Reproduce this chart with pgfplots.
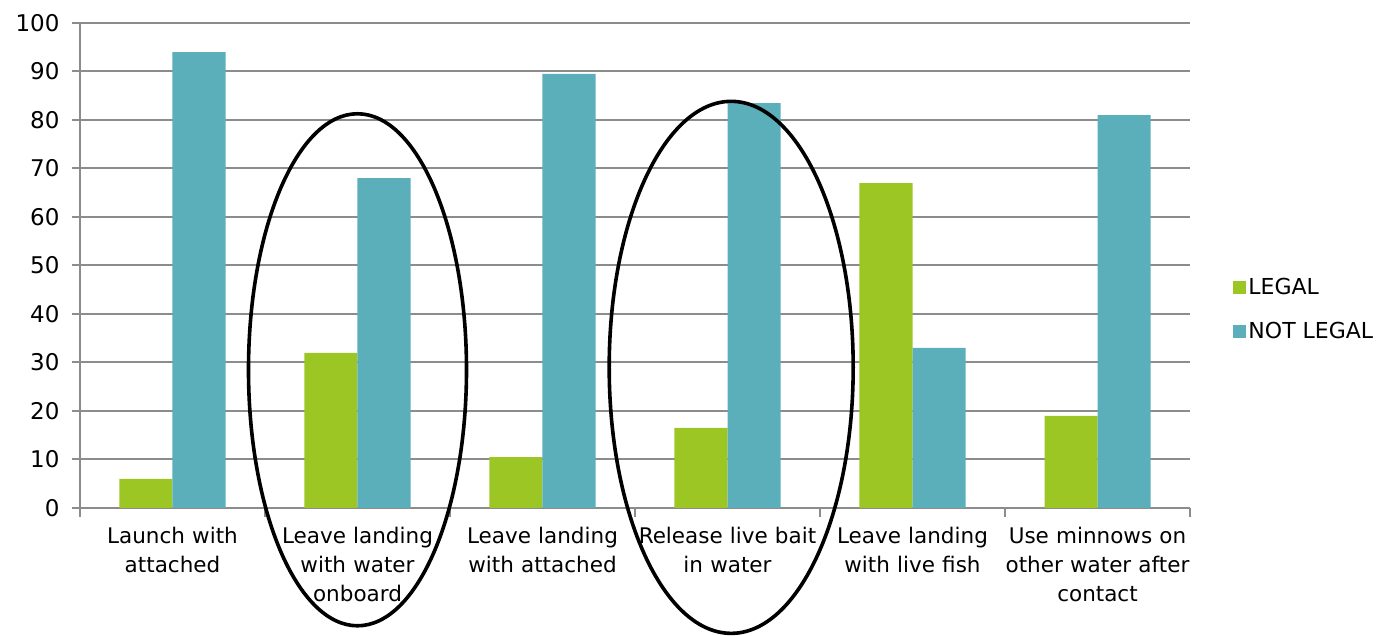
\documentclass[border=0pt]{standalone}
\usepackage{pgfplots}
\pgfplotsset{compat=1.18}
\usepackage{fontspec}
\setmainfont{DejaVu Sans}
\definecolor{cgreen}{RGB}{155,198,35}
\definecolor{cteal}{RGB}{91,175,186}
\definecolor{cgrid}{RGB}{140,140,140}
\begin{document}
\begin{tikzpicture}[x=1pt,y=1pt]
\path[use as bounding box] (-80pt,-128pt) rectangle (1303pt,508pt);
\begin{axis}[
  at={(0pt,0pt)}, anchor=south west,
  scale only axis, width=1110pt, height=485pt,
  clip=false,
  ybar=0pt, bar width=53pt,
  xmin=-0.5, xmax=5.5, ymin=0, ymax=100,
  ytick={0,10,...,100},
  xtick={0,1,2,3,4,5},
  xticklabels={{Launch with\\attached},{Leave landing\\with water\\onboard},{Leave landing\\with attached},{Release live bait\\in water},{Leave landing\\with live fish},{Use minnows on\\other water after\\contact}},
  minor xtick={-0.5,0.5,...,5.5},
  major x tick style={draw=none},
  minor x tick style={draw=cgrid, line width=2pt},
  minor tick length=9pt,
  major tick length=8pt,
  axis x line*=bottom, axis y line*=left,
  axis line style={draw=cgrid, line width=2pt, -},
  y tick style={draw=cgrid, line width=2pt},
  tick align=outside,
  ymajorgrids, major grid style={draw=cgrid, line width=2pt},
  tick label style={font=\fontsize{21.5}{29}\selectfont},
  yticklabel style={font=\fontsize{23}{29}\selectfont, xshift=-9pt},
  /pgf/number format/assume math mode=true,
  xticklabel style={align=center, text width=190pt, yshift=-8pt},
  legend style={draw=none, at={(1.039,0.41)}, anchor=west, font=\fontsize{22}{29}\selectfont, row sep=22pt, inner sep=0pt, /tikz/every even column/.append style={column sep=10pt}},
  legend cell align=left,
  legend image code/.code={\fill[#1] (0pt,-6.5pt) rectangle (13pt,6.5pt);},
]
\addplot[fill=cgreen, draw=none] coordinates {(0,6) (1,32) (2,10.5) (3,16.5) (4,67) (5,19)};
\addplot[fill=cteal, draw=none] coordinates {(0,94) (1,68) (2,89.5) (3,83.5) (4,33) (5,81)};
\legend{LEGAL, NOT LEGAL}
\draw[black, line width=3.6pt] (axis cs:1,28.5) ellipse [x radius=109pt, y radius=256pt];
\draw[black, line width=3.6pt] (axis cs:3.02,29) ellipse [x radius=122pt, y radius=266pt];
\end{axis}
\end{tikzpicture}
\end{document}
